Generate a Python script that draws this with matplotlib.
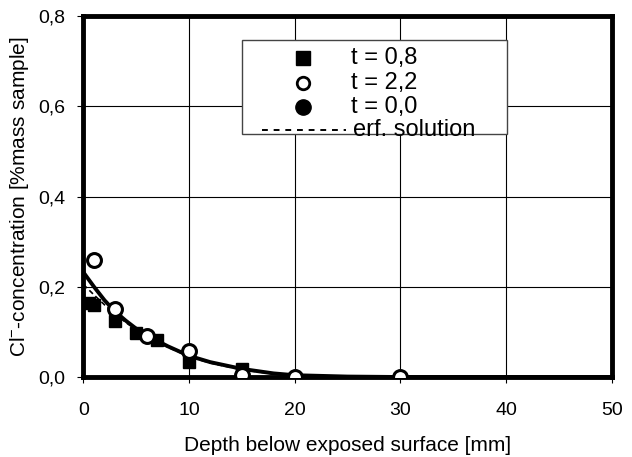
import matplotlib
matplotlib.use("Agg")
import matplotlib.pyplot as plt
from matplotlib.lines import Line2D
from matplotlib.patches import Rectangle
from matplotlib.ticker import FuncFormatter

plt.rcParams['font.family'] = ['Liberation Sans', 'DejaVu Sans']
plt.rcParams['mathtext.fontset'] = 'custom'
plt.rcParams['mathtext.rm'] = 'Liberation Sans'
plt.rcParams['mathtext.default'] = 'regular'

# Measured chloride profiles
depth_t08 = [0.5, 1.0, 3.0, 5.0, 7.0, 10.0, 15.0]
conc_t08 = [0.165, 0.160, 0.124, 0.097, 0.082, 0.034, 0.018]

depth_t22 = [1.0, 3.0, 6.0, 10.0, 15.0, 20.0, 30.0]
conc_t22 = [0.260, 0.150, 0.092, 0.058, 0.004, 0.000, 0.000]

# Fitted profile (solid) and erf. solution (dashed)
fit_depth = [0, 1, 2, 3, 4, 5, 6, 7, 8, 10, 12, 15, 18, 20, 25, 30, 40, 50]
fit_conc = [0.232, 0.200, 0.170, 0.145, 0.125, 0.107, 0.093, 0.080, 0.068,
            0.047, 0.033, 0.018, 0.008, 0.004, 0.001, 0.0, 0.0, 0.0]
erf_depth = [0, 1, 2, 3, 4, 5, 6, 7, 8, 10, 12, 15, 18, 20, 25, 30]
erf_conc = [0.205, 0.182, 0.160, 0.140, 0.121, 0.105, 0.090, 0.077, 0.066,
            0.045, 0.031, 0.016, 0.007, 0.003, 0.001, 0.0]

x_ticks = [0, 10, 20, 30, 40, 50]
y_ticks = [0.0, 0.2, 0.4, 0.6, 0.8]

legend_labels = ["t = 0,8", "t = 2,2", "t = 0,0", "erf. solution"]

fig = plt.figure(figsize=(6.32, 4.57), dpi=100)
ax = fig.add_axes([0.132, 0.175, 0.836, 0.790])

ax.plot(fit_depth, fit_conc, color='black', lw=2.8, zorder=3)
ax.plot(erf_depth, erf_conc, color='black', lw=1.2, ls=(0, (3, 2)), zorder=3)
ax.plot(depth_t08, conc_t08, ls='none', marker='s', ms=9, color='black',
        zorder=4)
ax.plot(depth_t22, conc_t22, ls='none', marker='o', ms=10, mfc='white',
        mec='black', mew=2.2, zorder=5)

ax.set_xlim(0, 50)
ax.set_ylim(0, 0.8)
ax.set_xticks(x_ticks)
ax.set_yticks(y_ticks)
ax.yaxis.set_major_formatter(FuncFormatter(lambda v, p: f"{v:.1f}".replace('.', ',')))
ax.grid(True, color='black', lw=0.8)
ax.set_axisbelow(True)
for side in ['left', 'bottom', 'top', 'right']:
    ax.spines[side].set_linewidth(3.5)
ax.tick_params(axis='both', direction='out', length=4, width=0.8,
               labelsize=14)
ax.tick_params(axis='x', pad=14)
ax.tick_params(axis='y', pad=9)

ax.set_xlabel("Depth below exposed surface [mm]", fontsize=15, labelpad=12)
ax.set_ylabel("Cl$^{-}$-concentration [%mass sample]", fontsize=15, labelpad=5)

# Legend box
ax.add_patch(Rectangle((0.300, 0.673), 0.501, 0.261, transform=ax.transAxes,
                       facecolor='white', edgecolor='#444444', lw=1.0, zorder=6))
rows_y = [0.883, 0.814, 0.748, 0.684]
mx = 0.416
tx = 0.506
ax.add_line(Line2D([mx], [rows_y[0]], transform=ax.transAxes, ls='none',
                   marker='s', ms=9.5, color='black', zorder=7))
ax.add_line(Line2D([mx], [rows_y[1]], transform=ax.transAxes, ls='none',
                   marker='o', ms=9, mfc='white', mec='black', mew=2.0, zorder=7))
ax.add_line(Line2D([mx], [rows_y[2]], transform=ax.transAxes, ls='none',
                   marker='o', ms=11, color='black', zorder=7))
ax.add_line(Line2D([0.338, 0.497], [rows_y[3], rows_y[3]], transform=ax.transAxes,
                   color='black', lw=1.4, ls=(0, (3, 3)), zorder=7))
for i, lab in enumerate(legend_labels):
    ax.text(tx if i < 3 else 0.510, rows_y[i], lab, transform=ax.transAxes,
            fontsize=17, va='center', ha='left', zorder=8)

fig.savefig("out.png", dpi=100)
